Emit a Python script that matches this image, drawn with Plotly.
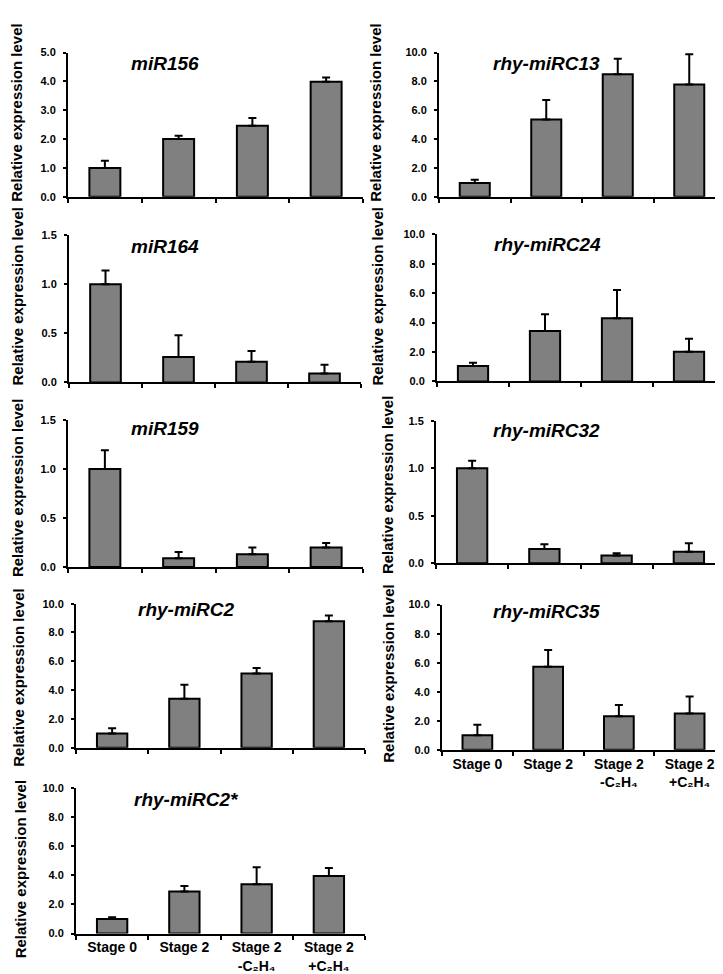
import plotly.graph_objects as go

W, H = 723, 974

categories = ["Stage 0", "Stage 2", "Stage 2<br>-C₂H₄", "Stage 2<br>+C₂H₄"]

gene_names = ["miR156", "miR164", "miR159", "rhy-miRC2", "rhy-miRC2*",
              "rhy-miRC13", "rhy-miRC24", "rhy-miRC32", "rhy-miRC35"]

miR156 = [1.0, 2.0, 2.46, 3.99]
miR156_err = [0.25, 0.11, 0.27, 0.14]
miR164 = [1.0, 0.26, 0.21, 0.09]
miR164_err = [0.14, 0.22, 0.11, 0.09]
miR159 = [1.0, 0.09, 0.13, 0.20]
miR159_err = [0.19, 0.065, 0.07, 0.045]
rhy_miRC2 = [1.0, 3.40, 5.15, 8.78]
rhy_miRC2_err = [0.36, 0.97, 0.38, 0.40]
rhy_miRC2s = [1.0, 2.90, 3.40, 3.96]
rhy_miRC2s_err = [0.12, 0.38, 1.16, 0.55]
rhy_miRC13 = [0.95, 5.35, 8.50, 7.78]
rhy_miRC13_err = [0.22, 1.35, 1.06, 2.10]
rhy_miRC24 = [1.05, 3.42, 4.30, 2.02]
rhy_miRC24_err = [0.22, 1.14, 1.92, 0.88]
rhy_miRC32 = [1.0, 0.15, 0.08, 0.12]
rhy_miRC32_err = [0.08, 0.05, 0.025, 0.09]
rhy_miRC35 = [1.0, 5.72, 2.31, 2.51]
rhy_miRC35_err = [0.72, 1.16, 0.77, 1.16]

y_max = [5, 1.5, 1.5, 10, 10, 10, 10, 1.5, 10]
y_dtick = [1, 0.5, 0.5, 2, 2, 2, 2, 0.5, 2]

series = [miR156, miR164, miR159, rhy_miRC2, rhy_miRC2s,
          rhy_miRC13, rhy_miRC24, rhy_miRC32, rhy_miRC35]
errors = [miR156_err, miR164_err, miR159_err, rhy_miRC2_err, rhy_miRC2s_err,
          rhy_miRC13_err, rhy_miRC24_err, rhy_miRC32_err, rhy_miRC35_err]

# panel geometry in pixels: x0, x1, ytop, ybottom
panels = [
    (60, 355, 39, 185),
    (61, 353, 224, 373),
    (60, 355, 411, 560),
    (68, 357, 597, 743),
    (68, 357, 784, 931),
    (431, 717, 39, 185),
    (429, 717, 223, 372),
    (428, 717, 412, 556),
    (434, 717, 598, 745),
]
show_xlabels = [False, False, False, False, True, False, False, False, True]
ylabel_pos = [(9, 100), (9, 286), (9, 480), (11, 672), (12, 866),
              (368, 100), (369, 286), (379, 477), (381, 668)]
title_pos = [(157, 50), (157, 235), (157, 420), (178, 603), (178, 795),
             (538, 50), (539, 233), (538, 422), (538, 605)]

FONT = "Liberation Sans, Arial, sans-serif"

fig = go.Figure()
annotations = []
for i in range(9):
    n = i + 1
    xa = "x" if n == 1 else f"x{n}"
    ya = "y" if n == 1 else f"y{n}"
    fig.add_trace(go.Bar(
        x=categories, y=series[i], xaxis=xa, yaxis=ya,
        width=0.42,
        marker=dict(color="#808080", line=dict(color="black", width=2)),
        error_y=dict(type="data", symmetric=False, array=errors[i],
                     arrayminus=[0, 0, 0, 0], color="black", thickness=2, width=4),
        showlegend=False,
    ))
    x0, x1, yt, yb = panels[i]
    xkey = "xaxis" if n == 1 else f"xaxis{n}"
    ykey = "yaxis" if n == 1 else f"yaxis{n}"
    fig.update_layout(**{
        xkey: dict(
            domain=[x0 / W, x1 / W], anchor=ya, type="category",
            showline=True, linecolor="black", linewidth=2,
            ticks="outside", tickson="boundaries", ticklen=4, tickwidth=2, tickcolor="black",
            showticklabels=show_xlabels[i], showgrid=False, zeroline=False,
            tickfont=dict(family=FONT, size=14, color="black", weight="bold"),
            range=[-0.5, 3.5], fixedrange=True,
        ),
        ykey: dict(
            domain=[1 - yb / H, 1 - yt / H], anchor=xa,
            range=[0, y_max[i]], dtick=y_dtick[i], tick0=0, tickformat=".1f",
            showline=True, linecolor="black", linewidth=2,
            ticks="outside", ticklen=3, tickwidth=2, tickcolor="black",
            ticklabelstandoff=5,
            showgrid=False, zeroline=False,
            tickfont=dict(family=FONT, size=11, color="black", weight="bold"),
        ),
    })
    lx, ly = ylabel_pos[i]
    annotations.append(dict(
        text="Relative expression level", xref="paper", yref="paper",
        x=lx / W, y=1 - ly / H, xanchor="center", yanchor="middle",
        textangle=-90, showarrow=False,
        font=dict(family=FONT, size=15, color="black", weight="bold"),
    ))
    tx, ty = title_pos[i]
    annotations.append(dict(
        text=f"<i>{gene_names[i]}</i>", xref="paper", yref="paper",
        x=tx / W, y=1 - ty / H, xanchor="center", yanchor="middle",
        showarrow=False,
        font=dict(family=FONT, size=19, color="black", weight="bold"),
    ))

fig.update_layout(
    width=W, height=H, margin=dict(l=0, r=0, t=0, b=0),
    plot_bgcolor="white", paper_bgcolor="white",
    annotations=annotations, bargap=0.58,
)
fig.write_html("out.html")
